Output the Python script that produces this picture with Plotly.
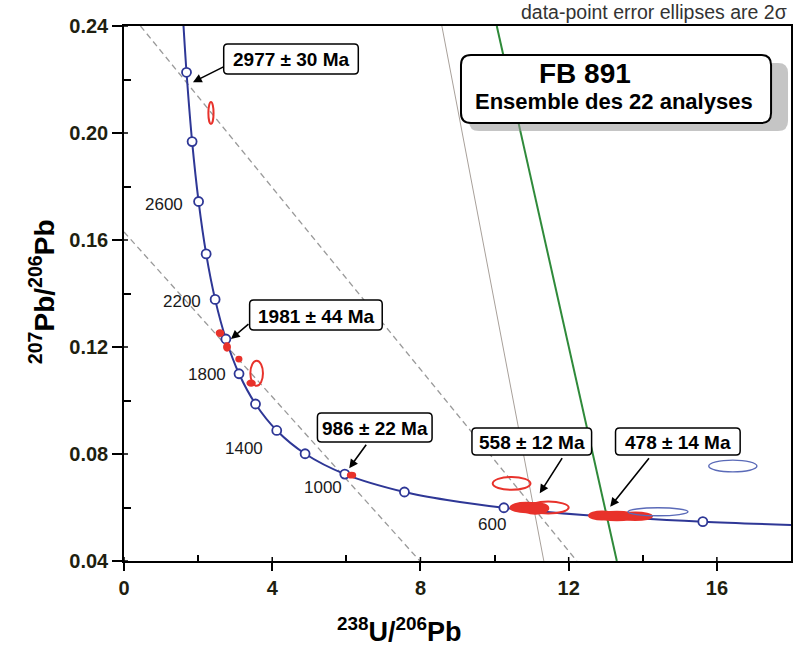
import plotly.graph_objects as go

# ---------------- data ----------------
# concordia curve (Tera-Wasserburg)
conc_x = [1.606, 1.687, 1.838, 2.013, 2.217, 2.459, 2.749, 3.104, 3.549, 4.122, 4.887, 5.959, 7.568, 8.718, 10.252, 12.399, 15.621, 18.0]
conc_y = [0.2400, 0.2227, 0.1968, 0.1744, 0.1548, 0.1378, 0.1230, 0.1100, 0.0987, 0.0888, 0.0801, 0.0725, 0.0658, 0.0628, 0.0599, 0.0572, 0.0547, 0.0535]

# age markers (every 200 Ma)
mark_age = [3000, 2800, 2600, 2400, 2200, 2000, 1800, 1600, 1400, 1200, 1000, 800, 600, 400]
mark_x = [1.687, 1.838, 2.013, 2.217, 2.459, 2.749, 3.104, 3.549, 4.122, 4.887, 5.959, 7.568, 10.252, 15.621]
mark_y = [0.2227, 0.1968, 0.1744, 0.1548, 0.1378, 0.1230, 0.1100, 0.0987, 0.0888, 0.0801, 0.0725, 0.0658, 0.0599, 0.0547]

# age labels
age_lab = ["2600", "2200", "1800", "1400", "1000", "600"]
age_lab_x = [1.09, 1.56, 2.23, 3.24, 5.37, 9.92]
age_lab_y = [0.1731, 0.1369, 0.1099, 0.0821, 0.0673, 0.0538]

# reference / discordia lines (x0, y0, x1, y1)
dash_lines = [(0.445, 0.240, 12.22, 0.040), (0.0, 0.1630, 7.985, 0.040)]
gray_line = (8.578, 0.240, 11.33, 0.040)
green_line = (10.06, 0.240, 13.30, 0.040)

# error ellipses: centre x, centre y, half-width x, half-height y, colour, filled
ell_cx = [2.347, 3.58, 2.59, 2.78, 3.10, 3.43, 6.14, 10.46, 10.85, 11.10, 11.45, 12.90, 13.30, 13.80, 14.41, 16.43]
ell_cy = [0.2075, 0.1102, 0.1252, 0.1200, 0.1155, 0.1065, 0.0721, 0.0690, 0.0600, 0.0597, 0.0600, 0.0570, 0.0568, 0.0567, 0.0584, 0.0755]
ell_rx = [0.07, 0.17, 0.09, 0.08, 0.07, 0.10, 0.10, 0.51, 0.42, 0.35, 0.55, 0.35, 0.50, 0.45, 0.81, 0.65]
ell_ry = [0.0041, 0.0047, 0.0011, 0.0014, 0.0009, 0.0010, 0.0009, 0.0024, 0.0018, 0.0020, 0.0022, 0.0015, 0.0016, 0.0014, 0.0015, 0.0022]
ell_col = ["red", "red", "red", "red", "red", "red", "red", "red", "red", "red", "red", "red", "red", "red", "blue", "blue"]
ell_fill = [False, False, True, True, True, True, True, False, True, True, False, True, True, True, False, False]

# age callouts: text, arrow tail (x, y), arrow tip (x, y), box pixel rect
call_text = ["2977 ± 30 Ma", "1981 ± 44 Ma", "986 ± 22 Ma", "558 ± 12 Ma", "478 ± 14 Ma"]
call_tail_x = [2.725, 3.399, 6.565, 11.85, 14.20]
call_tail_y = [0.2250, 0.1290, 0.0840, 0.0790, 0.0790]
call_tip_x = [1.861, 2.886, 6.078, 11.22, 13.12]
call_tip_y = [0.2190, 0.1230, 0.0747, 0.0653, 0.0603]
call_box = [(224, 44, 359, 74), (250, 300, 383, 330), (318, 413, 433, 442), (473, 428, 593, 455), (617, 428, 742, 455)]

x_ticks = [0, 4, 8, 12, 16]
x_minor = [2, 6, 10, 14]
y_ticks = [0.04, 0.08, 0.12, 0.16, 0.20, 0.24]
y_tick_text = ["0.04", "0.08", "0.12", "0.16", "0.20", "0.24"]
y_minor = [0.06, 0.10, 0.14, 0.18, 0.22]

# ---------------- layout helpers ----------------
W, H = 795, 657
L, R, T, B = 124, 793, 26, 561


def px2paper(px, py):
    return (px - L) / (R - L), (B - py) / (B - T)


def rrect_path(x0, y0, x1, y1, r):
    def p(x, y):
        a, b = px2paper(x, y)
        return f"{a:.5f},{b:.5f}"
    return (f"M {p(x0 + r, y0)} L {p(x1 - r, y0)} Q {p(x1, y0)} {p(x1, y0 + r)} "
            f"L {p(x1, y1 - r)} Q {p(x1, y1)} {p(x1 - r, y1)} "
            f"L {p(x0 + r, y1)} Q {p(x0, y1)} {p(x0, y1 - r)} "
            f"L {p(x0, y0 + r)} Q {p(x0, y0)} {p(x0 + r, y0)} Z")


RED = "#e8322b"
CONC = "#2e3796"
FONT = "Liberation Sans, Arial, sans-serif"

fig = go.Figure()

# dashed reference lines
for (x0, y0, x1, y1) in dash_lines:
    fig.add_trace(go.Scatter(x=[x0, x1], y=[y0, y1], mode="lines",
                             line=dict(color="#9a9a9a", width=1.3, dash="6px,4px"),
                             hoverinfo="skip", showlegend=False))
fig.add_trace(go.Scatter(x=[gray_line[0], gray_line[2]], y=[gray_line[1], gray_line[3]], mode="lines",
                         line=dict(color="#a8a09a", width=1), hoverinfo="skip", showlegend=False))
fig.add_trace(go.Scatter(x=[green_line[0], green_line[2]], y=[green_line[1], green_line[3]], mode="lines",
                         line=dict(color="#2f8a3a", width=2), hoverinfo="skip", showlegend=False))

# concordia
fig.add_trace(go.Scatter(x=conc_x, y=conc_y, mode="lines",
                         line=dict(color=CONC, width=2, shape="spline", smoothing=0.8),
                         hoverinfo="skip", showlegend=False))
fig.add_trace(go.Scatter(x=mark_x, y=mark_y, mode="markers", text=[str(a) for a in mark_age],
                         marker=dict(symbol="circle", size=9, color="white",
                                     line=dict(color=CONC, width=1.8)),
                         hoverinfo="text", showlegend=False))

shapes = []
# ellipses
for cx, cy, rx, ry, c, f in zip(ell_cx, ell_cy, ell_rx, ell_ry, ell_col, ell_fill):
    col = RED if c == "red" else "#5a6ab8"
    shapes.append(dict(type="circle", xref="x", yref="y",
                       x0=cx - rx, x1=cx + rx, y0=cy - ry, y1=cy + ry,
                       line=dict(color=col, width=2 if c == "red" else 1.4),
                       fillcolor=col if f else "rgba(0,0,0,0)", layer="above"))

# title box shadow + box
shapes.append(dict(type="path", xref="paper", yref="paper", path=rrect_path(470, 63, 790, 131, 10),
                   fillcolor="rgba(150,150,150,0.55)", line=dict(width=0), layer="above"))
shapes.append(dict(type="path", xref="paper", yref="paper", path=rrect_path(462, 55, 773, 123, 10),
                   fillcolor="white", line=dict(color="black", width=2), layer="above"))

# callout boxes
for (x0, y0, x1, y1) in call_box:
    shapes.append(dict(type="path", xref="paper", yref="paper", path=rrect_path(x0, y0, x1, y1, 4),
                       fillcolor="white", line=dict(color="black", width=1.5), layer="above"))

# major ticks also cross slightly into the plot area
for v in x_ticks:
    shapes.append(dict(type="line", xref="x", yref="paper", x0=v, x1=v, y0=0, y1=4 / (B - T),
                       line=dict(color="black", width=1.5)))
for v in y_ticks:
    shapes.append(dict(type="line", xref="paper", yref="y", x0=0, x1=4 / (R - L), y0=v, y1=v,
                       line=dict(color="black", width=1.5)))


def ann_px(px, py, text, size, weight="normal", color="black", xanchor="center", angle=0):
    x_, y_ = px2paper(px, py)
    return dict(x=x_, y=y_, xref="paper", yref="paper", text=text, showarrow=False,
                xanchor=xanchor, yanchor="middle", textangle=angle,
                font=dict(family=FONT, size=size, color=color, weight=weight))


annotations = []
# age labels
for t, x, y in zip(age_lab, age_lab_x, age_lab_y):
    annotations.append(dict(x=x, y=y, xref="x", yref="y", text=t, showarrow=False,
                            xanchor="center", yanchor="middle",
                            font=dict(family=FONT, size=17, color="#1a1a1a")))
# callout text + arrows
for t, (x0, y0, x1, y1), tx, ty, hx, hy in zip(call_text, call_box, call_tail_x, call_tail_y, call_tip_x, call_tip_y):
    annotations.append(ann_px((x0 + x1) / 2, (y0 + y1) / 2 + 1, t, 19, "bold"))
    annotations.append(dict(x=hx, y=hy, xref="x", yref="y", ax=tx, ay=ty, axref="x", ayref="y",
                            text="", showarrow=True, arrowhead=2, arrowsize=1.1, arrowwidth=1.6,
                            arrowcolor="black"))

# title box text
annotations.append(ann_px(586, 74, "FB 891", 28, "bold"))
annotations.append(ann_px(615, 101, "Ensemble des 22 analyses", 22, "bold"))
# top-right note
annotations.append(ann_px(791, 12, "data-point error ellipses are 2σ", 19.5, color="#333333", xanchor="right"))
# axis titles
annotations.append(ann_px(42, 292, "<sup>207</sup>Pb/<sup>206</sup>Pb", 28, "bold", angle=-90))
annotations.append(ann_px(400, 630, "<sup>238</sup>U/<sup>206</sup>Pb", 27, "bold"))

fig.update_layout(
    width=W, height=H,
    margin=dict(l=L, r=W - R, t=T, b=H - B),
    paper_bgcolor="white", plot_bgcolor="white",
    shapes=shapes, annotations=annotations,
    showlegend=False,
    xaxis=dict(range=[0, 18], tickvals=x_ticks, ticktext=[str(v) for v in x_ticks],
               ticks="outside", ticklen=8, tickwidth=1.5, tickcolor="black",
               minor=dict(tickvals=x_minor, ticks="inside", ticklen=6, tickwidth=1.5, tickcolor="black"),
               showline=True, linecolor="black", linewidth=1.5, mirror=True,
               showgrid=False, zeroline=False,
               tickfont=dict(family=FONT, size=20, color="#1f1f10", weight="bold")),
    yaxis=dict(range=[0.04, 0.24], tickvals=y_ticks, ticktext=y_tick_text,
               ticks="outside", ticklen=10, tickwidth=1.5, tickcolor="black",
               minor=dict(tickvals=y_minor, ticks="inside", ticklen=7, tickwidth=1.5, tickcolor="black"),
               showline=True, linecolor="black", linewidth=1.5, mirror=True,
               showgrid=False, zeroline=False,
               tickfont=dict(family=FONT, size=20, color="#1f1f10", weight="bold")),
)

fig.write_html("out.html")
